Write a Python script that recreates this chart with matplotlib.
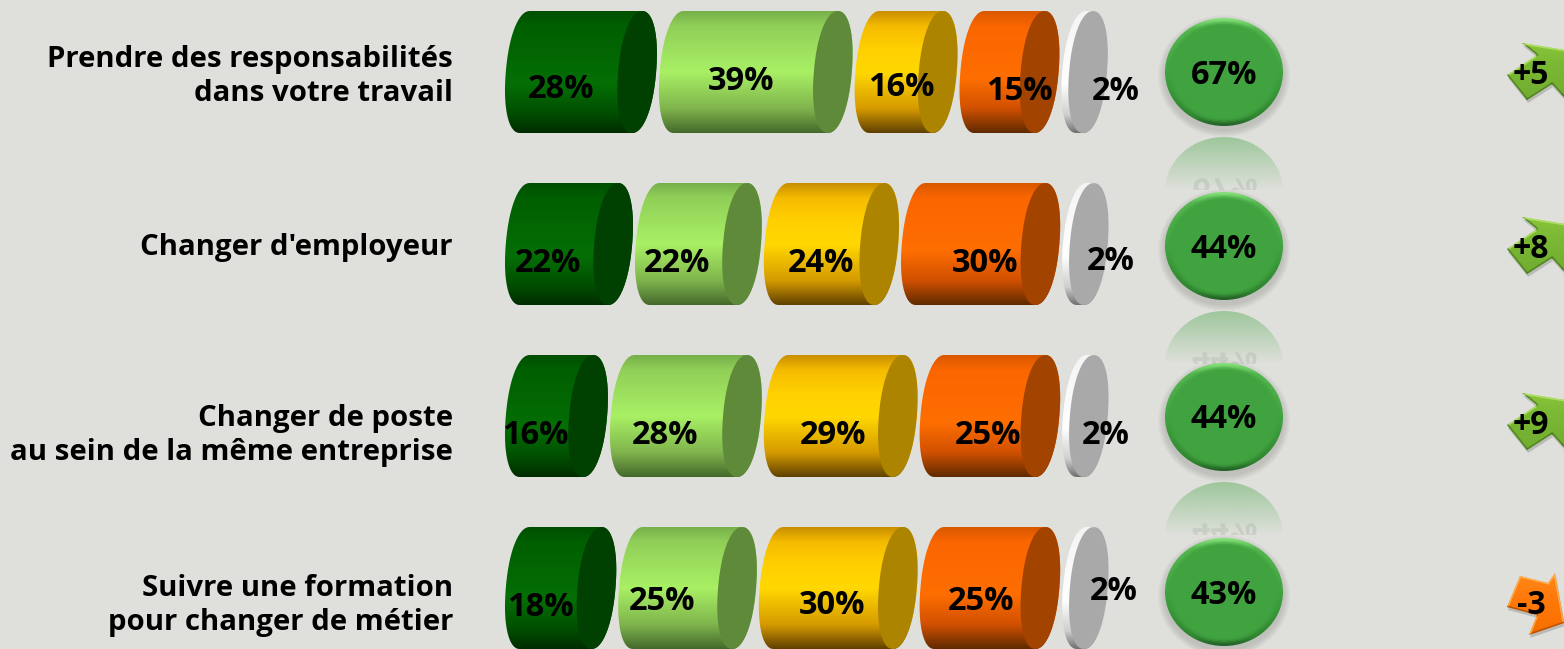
import numpy as np
import matplotlib
matplotlib.use('Agg')
import matplotlib.pyplot as plt
from matplotlib.colors import LinearSegmentedColormap, to_rgb
from matplotlib.patches import Ellipse, Polygon, PathPatch, Rectangle
from matplotlib.textpath import TextPath
from matplotlib.font_manager import FontProperties
from matplotlib.transforms import Affine2D

plt.rcParams['font.family'] = ['Open Sans', 'DejaVu Sans']

# data
labels = ["Prendre des responsabilités\ndans votre travail",
          "Changer d'employeur",
          "Changer de poste\nau sein de la même entreprise",
          "Suivre une formation\npour changer de métier"]
very_positive = [28.4, 22.1, 15.5, 17.7]
positive = [39.4, 21.8, 28.4, 24.9]
negative = [15.5, 24.0, 28.9, 30.2]
very_negative = [14.7, 30.3, 25.4, 25.4]
no_answer = [2, 2, 2, 2]
totals = [67, 44, 44, 43]
deltas = [5, 8, 9, -3]

# layout, in pixels of the 1564x649 image
BG = '#dfe0db'
ROW_TOP = [11, 183, 355, 527]
ROW_H = 122
X0 = 505
GAP = 2.0
SCALE = 3.8
BASE = [44, 44, 44, 44, 38.9]
RX, SKEW = 19, 5
CIRCLE_X = 1224
CIRCLE_Y = [72, 246, 417, 592]
LABEL_Y = [75.5, 246, 434.5, 604.5]
ARROW_Y = [75, 249, 425, 607]
# label shift from the middle of its segment (dx, dy from row top + 61)
LABEL_SHIFT = [[(-20, 16), (-15, 8), (-5, 14), (10, 17), (31, 17)],
               [(-21, 17), (-21, 17), (-10, 17), (4, 17), (25, 15)],
               [(-21, 17), (-21, 17), (-8, 17), (-2, 17), (20, 17)],
               [(-20, 17), (-26, 12), (-6, 15), (-9, 12), (28, 2)]]

body_colors = [[(0, '#004f00'), (.12, '#005f00'), (.6, '#056f05'), (.85, '#004c00'), (1, '#002c00')],
               [(0, '#76b04a'), (.12, '#90cf58'), (.5, '#a9f064'), (.8, '#7fb44d'), (1, '#45692b')],
               [(0, '#c98f00'), (.12, '#f5bb00'), (.3, '#ffcf00'), (.5, '#ffd800'), (.8, '#d69a00'), (1, '#5f4000')],
               [(0, '#d95800'), (.12, '#fa6600'), (.55, '#ff6e00'), (.8, '#d05000'), (1, '#5f2a00')],
               [(0, '#f4f4f4'), (.6, '#ffffff'), (.85, '#cfcfcf'), (1, '#707070')]]
cap_colors = ['#004000', '#5f8a3a', '#ac8400', '#a34300', '#a9a9a9']

fig = plt.figure(figsize=(15.64, 6.49), dpi=100, facecolor=BG)
ax = fig.add_axes([0, 0, 1, 1])
ax.set_axis_off()


def gradient(patch, stops, x0, x1, y0, y1, zorder):
    # vertical gradient clipped to a patch
    cmap = LinearSegmentedColormap.from_list('g', stops)
    g = np.linspace(0, 1, 256).reshape(-1, 1)
    im = ax.imshow(g, cmap=cmap, extent=(x0, x1, y1, y0), aspect='auto', zorder=zorder,
                   interpolation='bilinear', vmin=0, vmax=1)
    patch.set_transform(ax.transData)
    im.set_clip_path(patch)
    return im


def half_ellipse(cx, cy, ry, t0, t1):
    # slightly squared and leaning ellipse
    t = np.linspace(t0, t1, 60)
    c = np.sign(np.cos(t)) * np.abs(np.cos(t)) ** 0.93
    s = np.sign(np.sin(t)) * np.abs(np.sin(t)) ** 0.93
    return np.column_stack((cx + RX * c - SKEW * s, cy + ry * s))


def cylinder(x0, x1, top, i, z):
    ry = ROW_H / 2
    cy = top + ry
    left = x0 + 19.8
    right = x1 - 19.8
    # left side bulges out, right side is the end cap
    pts = np.vstack((half_ellipse(left, cy, ry, -np.pi / 2, -3 * np.pi / 2),
                     half_ellipse(right, cy, ry, np.pi / 2, -np.pi / 2)))
    gradient(Polygon(pts, closed=True), body_colors[i], x0 - 2, x1 + 2, top, top + ROW_H, z)
    cap = half_ellipse(right, cy, ry, 0, 2 * np.pi)
    ax.add_patch(Polygon(cap, closed=True, fc=cap_colors[i], ec='none', zorder=z + 0.001))


def flipped_text(s, x, mirror, clip):
    fp = FontProperties(family='Open Sans', weight='bold')
    tp = TextPath((0, 0), s, size=32, prop=fp)
    w = tp.get_extents().width
    # image y runs downwards, so drawing the glyphs unflipped mirrors them
    tr = Affine2D().translate(x - w / 2, mirror + 47)
    p = PathPatch(tr.transform_path(tp), fc='#9aa899', ec='none', alpha=0.28, zorder=2.4)
    ax.add_patch(p)
    p.set_clip_path(clip)


def bubble(y, s, reflect):
    cx = CIRCLE_X
    rx, ry = 59, 54
    # soft shadow
    for k in range(7):
        ax.add_patch(Ellipse((cx, y + 4), 2 * (rx + 7 - k), 2 * (ry + 7 - k), fc='#555555',
                             alpha=0.03, ec='none', zorder=3))
    if reflect:
        mirror = y + ry + 5.5
        clip = Rectangle((cx - rx - 1, mirror + 5), 2 * rx + 2, 53, transform=ax.transData)
        el = Ellipse((cx, mirror + 5.5 + ry), 2 * rx, 2 * ry, transform=ax.transData)
        g = np.zeros((128, 2, 4))
        g[..., :3] = to_rgb('#41a340')
        g[..., 3] = np.linspace(0.42, 0, 128).reshape(-1, 1)
        im = ax.imshow(g, extent=(cx - rx, cx + rx, mirror + 59, mirror + 5), aspect='auto', zorder=2)
        im.set_clip_path(el)
        flipped_text(s, cx, mirror, clip)
    outer = Ellipse((cx, y), 2 * rx, 2 * ry, ec='none')
    gradient(outer, [(0, '#86e27a'), (.1, '#55b650'), (.5, '#41a340'), (.92, '#2f8530'), (1, '#245f26')],
             cx - rx, cx + rx, y - ry, y + ry, 3.2)
    for k, a in enumerate((0.25, 0.4, 0.6, 0.8, 1)):
        ax.add_patch(Ellipse((cx, y), 2 * (rx - 3 - k * 1.3), 2 * (ry - 3 - k * 1.3), fc='#41a340',
                             ec='none', alpha=a, zorder=3.3))
    ax.text(cx, y + 3, s, ha='center', va='center', fontsize=FS_NUM, fontweight='bold', color='black', zorder=5)


# arrow outlines, relative to the point of the tail on the left
ARROW_UP = np.array([(0, 0), (30, -20), (15, -32), (58, -25), (85, -22), (72, 38), (55, 20), (45, 9), (20, 25)], float)
ARROW_DOWN = np.array([(0, 0), (13, -31), (41, -24), (48, -34), (57, 16), (22, 28), (30, 8)], float)


def arrow(d, y):
    x = 1507
    up = d > 0
    pts = (ARROW_UP if up else ARROW_DOWN) + (x, y)
    poly = Polygon(pts, closed=True)
    stops = ([(0, '#8cc83c'), (.3, '#7cba35'), (.75, '#72ad30'), (1, '#5f9228')] if up
             else [(0, '#ff8a18'), (.35, '#ff7a0a'), (.75, '#f87000'), (1, '#d85c00')])
    ax.add_patch(Polygon(pts + (1, 3), closed=True, fc='#777777', alpha=0.35, ec='none', zorder=3))
    gradient(poly, stops, x - 2, x + 90, y - 36, y + 40, 3.2)
    # bevel: light on edges facing up, dark on edges facing down
    area = np.sum(pts[:, 0] * np.roll(pts[:, 1], -1) - np.roll(pts[:, 0], -1) * pts[:, 1])
    light, dark = ('#b8e66c', '#4a7a1c') if up else ('#ffb45a', '#b04a00')
    for a, b in zip(pts, np.roll(pts, -1, axis=0)):
        normal_y = -(b[0] - a[0]) * np.sign(area)
        line, = ax.plot([a[0], b[0]], [a[1], b[1]], color=light if normal_y < 0 else dark, lw=2.2, alpha=.8,
                        zorder=3.3, solid_capstyle='round')
        line.set_clip_path(Polygon(pts, closed=True, transform=ax.transData))
    label = f'+{d}' if up else str(d)
    ax.text(x + 24, y + (1 if up else -2), label, ha='center', va='center', fontsize=FS_NUM - 0.5,
            fontweight='bold', zorder=5)


FS_LABEL = 21.2
FS_NUM = 23.5

series = [very_positive, positive, negative, very_negative, no_answer]
for r, top in enumerate(ROW_TOP):
    x = X0
    for i, s in enumerate(series):
        w = BASE[i] + SCALE * s[r]
        cylinder(x, x + w, top, i, 1 + i * 0.01)
        dx, dy = LABEL_SHIFT[r][i]
        ax.text(x + w / 2 + dx, top + 61 + dy + 2, f'{round(s[r])}%', ha='center', va='center',
                fontsize=FS_NUM, fontweight='bold', color='black', zorder=6)
        x += w + GAP
    ax.text(453, LABEL_Y[r] + 1, labels[r], ha='right', va='center',
            fontsize=FS_LABEL, fontweight='bold', color='black', linespacing=1.2, zorder=5)
    bubble(CIRCLE_Y[r], f'{totals[r]}%', r < 3)

for d, y in zip(deltas, ARROW_Y):
    arrow(d, y)

ax.set_xlim(0, 1564)
ax.set_ylim(649, 0)
fig.savefig('out.png', dpi=100, facecolor=BG)
